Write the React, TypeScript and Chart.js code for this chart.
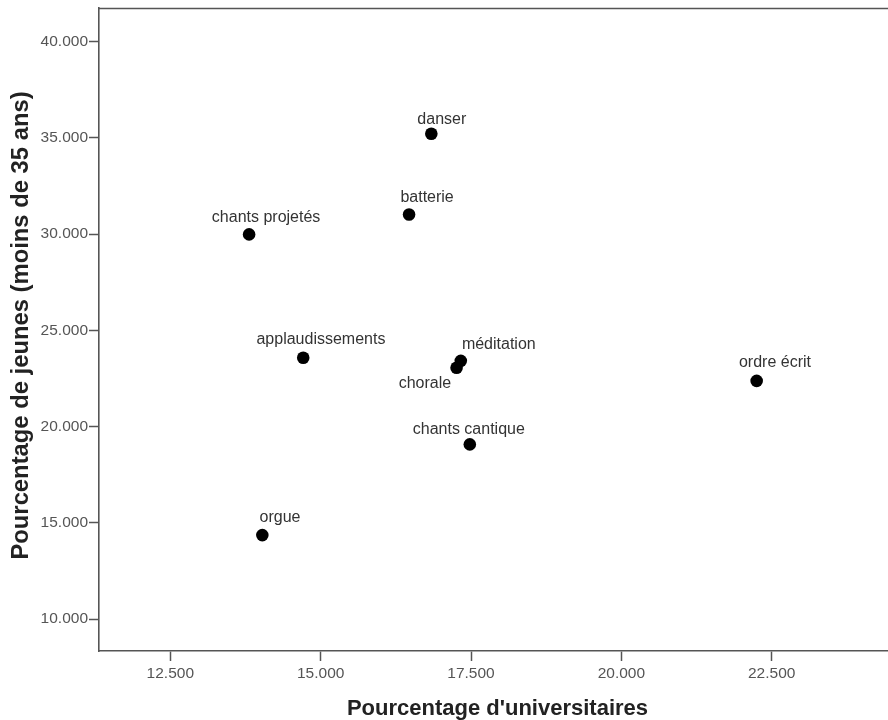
import React, { useEffect, useRef } from "react";
import { Chart, registerables } from "chart.js";

Chart.register(...registerables);

// ---- data ----
const activities = [
  "danser",
  "batterie",
  "chants projetés",
  "applaudissements",
  "méditation",
  "chorale",
  "ordre écrit",
  "chants cantique",
  "orgue",
];
const pctUniversitaires = [16.84, 16.47, 13.81, 14.71, 17.33, 17.26, 22.25, 17.48, 14.03];
const pctJeunes = [35.21, 31.01, 29.98, 23.57, 23.41, 23.05, 22.37, 19.07, 14.36];
const xTicks = [12.5, 15, 17.5, 20, 22.5];
const yTicks = [10, 15, 20, 25, 30, 35, 40];
const xTitle = "Pourcentage d'universitaires";
const yTitle = "Pourcentage de jeunes (moins de 35 ans)";

// label placement relative to its point (pixels): [text-centre dx, baseline dy]
const labelOffsets = [
  [10.5, -10],
  [18, -13],
  [17, -12],
  [17.7, -13.4],
  [38, -11.4],
  [-31.7, 20.6],
  [18.3, -14],
  [-1, -10.3],
  [17.7, -13.3],
];

const FONT = '"Liberation Sans", Arial, sans-serif';

const annotate = {
  id: "annotate",
  afterDraw(chart: any) {
    const { ctx, chartArea } = chart;
    ctx.save();
    // top frame line
    ctx.strokeStyle = "#555";
    ctx.lineWidth = 1.6;
    ctx.beginPath();
    ctx.moveTo(chartArea.left, chartArea.top + 0.5);
    ctx.lineTo(chartArea.right, chartArea.top + 0.5);
    ctx.stroke();

    // point labels
    ctx.font = `16px ${FONT}`;
    ctx.fillStyle = "#333";
    ctx.textAlign = "center";
    ctx.textBaseline = "alphabetic";
    const meta = chart.getDatasetMeta(0);
    meta.data.forEach((el: any, i: number) => {
      ctx.fillText(activities[i], el.x + labelOffsets[i][0], el.y + labelOffsets[i][1]);
    });

    // axis titles
    ctx.font = `bold 22px ${FONT}`;
    ctx.fillStyle = "#222";
    ctx.textAlign = "center";
    ctx.textBaseline = "alphabetic";
    ctx.fillText(xTitle, (chartArea.left + chartArea.right) / 2 + 4, chart.height - 5);

    ctx.font = `bold 23.8px ${FONT}`;
    ctx.translate(21, (chartArea.top + chartArea.bottom) / 2 - 4);
    ctx.rotate(-Math.PI / 2);
    ctx.textBaseline = "middle";
    ctx.fillText(yTitle, 0, 0);
    ctx.restore();
  },
};

export default function App() {
  const canvasRef = useRef<HTMLCanvasElement | null>(null);

  useEffect(() => {
    document.body.style.margin = "0";
    const canvas = canvasRef.current;
    if (!canvas) return;
    const chart = new Chart(canvas, {
      type: "scatter",
      data: {
        datasets: [
          {
            data: pctUniversitaires.map((x, i) => ({ x, y: pctJeunes[i] })),
            backgroundColor: "#000",
            borderColor: "#000",
            borderWidth: 0,
            pointRadius: 6.3,
            pointHoverRadius: 6.3,
          },
        ],
      },
      options: {
        animation: false,
        responsive: false,
        devicePixelRatio: 1,
        layout: { autoPadding: false, padding: { top: 8, right: 0, bottom: 0, left: 0 } },
        plugins: { legend: { display: false }, tooltip: { enabled: false } },
        scales: {
          x: {
            type: "linear",
            min: 11.314,
            max: 24.434,
            afterBuildTicks: (scale: any) => {
              scale.ticks = xTicks.map((v) => ({ value: v }));
            },
            afterFit: (scale: any) => {
              scale.height = 69;
              scale.paddingLeft = 0;
              scale.paddingRight = 0;
            },
            ticks: {
              callback: (v: any) => Number(v).toFixed(3),
              font: { family: FONT, size: 15.5 },
              color: "#555",
              padding: 3,
              maxRotation: 0,
              autoSkip: false,
            },
            grid: {
              display: true,
              drawOnChartArea: false,
              drawTicks: true,
              tickLength: 10,
              tickColor: "#555",
              tickWidth: 1.5,
            },
            border: { display: true, color: "#555", width: 1.6 },
          },
          y: {
            type: "linear",
            min: 8.339,
            max: 41.74,
            afterBuildTicks: (scale: any) => {
              scale.ticks = yTicks.map((v) => ({ value: v }));
            },
            afterFit: (scale: any) => {
              scale.width = 99;
              scale.paddingTop = 0;
              scale.paddingBottom = 0;
            },
            ticks: {
              callback: (v: any) => Number(v).toFixed(3),
              font: { family: FONT, size: 15.5 },
              color: "#555",
              padding: 1,
              autoSkip: false,
            },
            grid: {
              display: true,
              drawOnChartArea: false,
              drawTicks: true,
              tickLength: 10,
              tickColor: "#555",
              tickWidth: 1.5,
            },
            border: { display: true, color: "#555", width: 1.6 },
          },
        },
      },
      plugins: [annotate],
    });
    return () => chart.destroy();
  }, []);

  return (
    <div style={{ width: 888, height: 720, position: "relative" }}>
      <canvas ref={canvasRef} width={888} height={720} />
    </div>
  );
}
